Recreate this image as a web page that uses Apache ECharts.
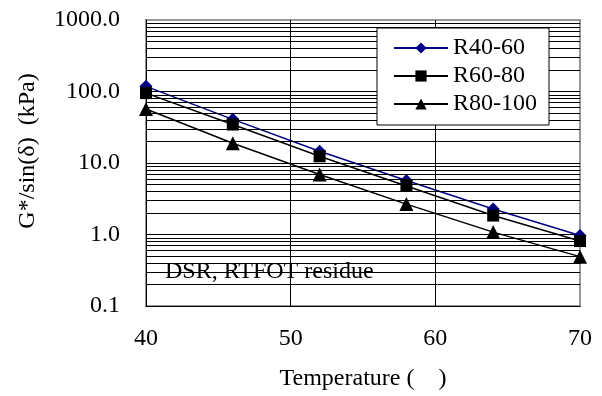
<!DOCTYPE html>
<html>
<head>
<meta charset="utf-8">
<script src="https://cdn.jsdelivr.net/npm/echarts@6/dist/echarts.min.js"></script>
<style>
  html, body {margin: 0; padding: 0; background: #fff;}
  #chart {width: 602px; height: 396px;}
</style>
</head>
<body>
<div id="chart"></div>
<script>
const temps = [40, 46, 52, 58, 64, 70]
const r4060 = [118, 40.8, 14.6, 5.7, 2.27, 0.97]
const r6080 = [95, 34.5, 12.4, 4.77, 1.84, 0.81]
const r80100 = [57, 18.9, 6.9, 2.66, 1.08, 0.49]
// log grid lines between the decades
const minorGrid = [0.2, 0.3, 0.4, 0.5, 0.6, 0.7, 0.8, 0.9,
  2, 3, 4, 5, 6, 7, 8, 9,
  20, 30, 40, 50, 60, 70, 80, 90,
  200, 300, 400, 500, 600, 700, 800, 900]

const font = "'Liberation Serif', 'Times New Roman', serif"
const chart = echarts.init(document.getElementById('chart'))

const pairs = (ys) => temps.map((t, i) => [t, ys[i]])

const option = {
  animation: false,
  textStyle: {fontFamily: font, color: '#000'},
  grid: {
    left: 146, right: 22, top: 20, bottom: 86,
    show: true, borderColor: '#999', borderWidth: 2
  },
  title: {
    text: 'DSR, RTFOT residue',
    left: 160, top: 255,
    textStyle: {fontFamily: font, fontSize: 24, fontWeight: 'normal', color: '#000'}
  },
  legend: {
    data: ['R40-60', 'R60-80', 'R80-100'],
    orient: 'vertical',
    left: 377, top: 28, z: 10,
    backgroundColor: '#fff',
    borderColor: '#000', borderWidth: 1,
    padding: [8, 12, 9, 16],
    itemWidth: 54, itemHeight: 14, itemGap: 4,
    textStyle: {fontFamily: font, fontSize: 24, color: '#000'}
  },
  xAxis: {
    type: 'value', min: 40, max: 70, interval: 10,
    name: 'Temperature (    )', nameLocation: 'middle', nameGap: 61,
    nameTextStyle: {fontFamily: font, fontSize: 24, color: '#000'},
    axisLine: {lineStyle: {color: '#000'}},
    axisTick: {show: false},
    axisLabel: {fontFamily: font, fontSize: 24, color: '#000', margin: 21},
    splitLine: {showMaxLine: false, lineStyle: {color: '#000'}}
  },
  yAxis: {
    type: 'log', logBase: 10, min: 0.1, max: 1000,
    name: 'G*/sin(δ)  (kPa)', nameLocation: 'middle', nameGap: 106,
    nameTextStyle: {fontFamily: font, fontSize: 24, color: '#000', padding: [0, 0, 0, 24]},
    axisLine: {show: true, lineStyle: {color: '#000'}},
    axisTick: {show: false},
    axisLabel: {fontFamily: font, fontSize: 24, color: '#000', margin: 26,
      formatter: (v) => v.toFixed(1)},
    splitLine: {showMaxLine: false, lineStyle: {color: '#000'}}
  },
  series: [
    {
      name: 'grid', type: 'line', data: [], silent: true, z: 1,
      markLine: {
        silent: true, symbol: 'none', animation: false,
        label: {show: false},
        lineStyle: {color: '#000', width: 1, type: 'solid'},
        data: minorGrid.map(v => ({yAxis: v}))
      }
    },
    {
      name: 'R40-60', type: 'line', data: pairs(r4060),
      symbol: 'diamond', symbolSize: 13,
      itemStyle: {color: '#000080'}, lineStyle: {color: '#000080', width: 1.5}
    },
    {
      name: 'R60-80', type: 'line', data: pairs(r6080),
      symbol: 'rect', symbolSize: 12,
      itemStyle: {color: '#000'}, lineStyle: {color: '#000', width: 1.5}
    },
    {
      name: 'R80-100', type: 'line', data: pairs(r80100),
      symbol: 'triangle', symbolSize: 14,
      itemStyle: {color: '#000'}, lineStyle: {color: '#000', width: 1.5}
    }
  ]
}

chart.setOption(option)
</script>
</body>
</html>
